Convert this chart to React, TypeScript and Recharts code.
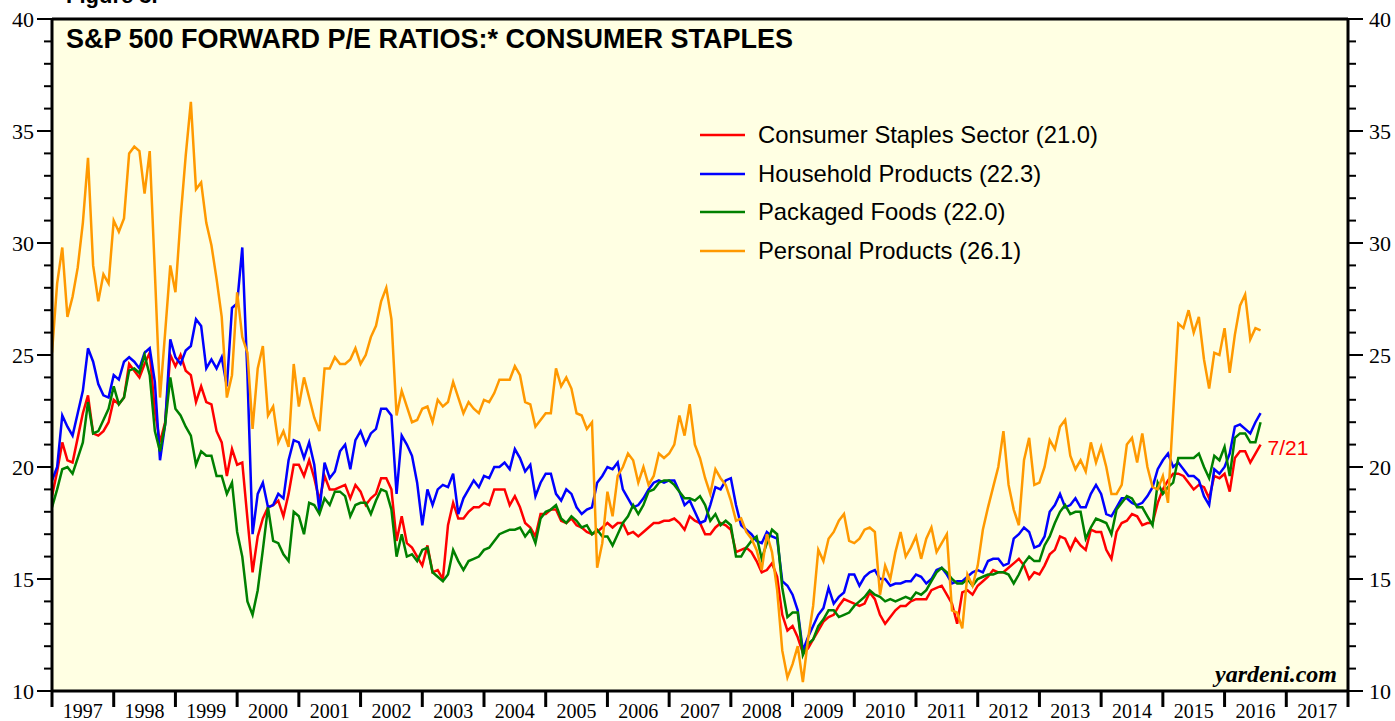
import React from "react";
import {
  CartesianGrid,
  LabelList,
  Legend,
  Line,
  LineChart,
  ReferenceLine,
  XAxis,
  YAxis,
} from "recharts";

// monthly readings, Jan 1997 .. Aug 2016
const START_YEAR = 1997;

const staples = [
  18.7, 19.8, 21.1, 20.3, 20.2, 21.3, 22.4, 23.2, 21.5, 21.4, 21.6, 22.0,
  23.0, 22.8, 23.1, 24.6, 24.3, 24.0, 24.6, 25.1, 22.5, 21.1, 22.0, 25.0,
  24.5, 25.0, 24.3, 24.1, 22.9, 23.6, 22.9, 22.8, 21.6, 21.1, 19.6, 20.8,
  20.1, 20.2, 17.7, 15.3, 16.9, 17.7, 18.2, 18.3, 18.5, 17.8, 18.8, 20.1,
  20.1, 19.6, 20.3, 19.5, 18.5,
  19.6, 19.0, 19.0, 19.1, 19.2, 18.6, 19.2, 18.9, 18.3, 18.6, 18.8, 19.5,
  19.5, 19.0, 16.7, 17.8, 16.6, 16.4, 16.0, 15.6, 16.5, 15.3, 15.4, 15.0,
  17.4, 18.4, 17.7, 17.7, 18.0, 18.2, 18.2, 18.4, 18.3, 19.0, 19.0, 19.0,
  18.3, 18.7, 18.2, 17.5, 17.3, 16.9, 17.9, 17.9, 18.1, 18.1, 17.6, 17.5,
  17.7, 17.4, 17.3, 17.1, 17.0, 17.1,
  17.3, 17.5,
  17.3, 17.5, 17.5, 17.0, 17.1, 16.9, 17.1, 17.3, 17.5, 17.5, 17.6, 17.6,
  17.7, 17.5, 17.2, 17.8, 17.6, 17.5, 17.0, 17.0, 17.3, 17.5, 17.4, 17.2,
  16.2, 16.3, 16.4, 16.2, 15.8, 15.3, 15.4, 15.7, 15.1, 13.4, 12.7, 12.9,
  12.4, 11.7, 11.9, 12.3, 12.7, 13.1, 13.3, 13.4, 13.8, 14.1, 14.0,
  13.9, 13.8, 13.9, 14.4, 14.1, 13.4, 13.0, 13.3, 13.6, 13.8, 13.8, 14.0,
  14.1, 14.1, 14.1, 14.5, 14.6, 14.7, 14.3, 13.9, 13.0, 14.4, 14.5, 14.3,
  14.7, 14.9, 15.1, 15.4, 15.3, 15.3, 15.5, 15.7, 15.9, 15.6, 15.0, 15.3,
  15.2, 15.6, 16.1,
  16.3, 16.9, 16.8, 16.3, 16.8, 16.5, 16.3, 17.2, 17.1, 17.1,
  16.3, 15.9, 17.1, 17.5, 17.6, 17.9, 17.8, 17.4, 17.5, 17.5, 18.4, 19.0,
  19.4, 19.7, 19.7, 19.6, 19.3, 19.0, 19.2, 19.1, 18.6, 19.6, 19.5, 19.7,
  18.9, 20.4, 20.7, 20.7, 20.2, 20.6, 21.0,
];

const household = [
  19.4, 20.0, 22.3, 21.8, 21.4, 22.4, 23.4, 25.3, 24.7, 23.7, 23.2, 23.1,
  24.1, 23.9, 24.7, 24.9, 24.7, 24.4, 25.1, 25.3, 23.8, 20.3, 21.9, 25.7,
  24.9, 24.6, 25.2, 25.4, 26.6, 26.3, 24.4, 24.8, 24.4, 24.9, 23.6, 27.1,
  27.3, 29.8, 24.1, 17.0, 18.8, 19.3, 18.2, 18.3, 18.8, 18.6, 20.3, 21.2,
  21.1, 20.4, 21.1, 20.1, 18.0,
  20.2, 19.5, 19.8, 20.7, 21.0, 19.9, 21.2, 21.6, 21.0, 21.5, 21.7, 22.6,
  22.6, 22.3, 18.8, 21.4, 21.0, 20.5, 19.3, 17.4, 19.0, 18.3, 19.0, 19.2,
  19.1, 19.7, 17.9, 18.6, 19.0, 19.4, 19.1, 19.6, 19.5, 20.0, 20.0, 20.2,
  19.9, 20.8, 20.4, 19.8, 20.1, 18.7, 19.3, 19.7, 19.7, 18.8, 18.5, 19.0,
  18.8, 18.2, 17.9, 18.1, 18.2, 19.3,
  19.6, 20.0,
  19.9, 20.2, 19.0, 18.6, 18.2, 18.3, 18.6, 19.0, 19.3, 19.4, 19.3, 19.4,
  19.4, 18.9, 18.3, 18.5, 18.0, 17.5, 17.6, 18.3, 19.1, 19.0, 19.4, 19.5,
  18.3, 17.4, 17.2, 17.0, 16.7, 16.6, 17.1, 16.9, 16.8, 14.9, 14.7, 14.3,
  13.6, 11.8, 12.4, 12.9, 13.4, 13.7, 14.6, 13.9, 14.2, 14.4, 15.2,
  15.2, 14.7, 15.1, 15.3, 15.4, 15.0, 15.0, 14.7, 14.8, 14.8, 14.9, 14.9,
  15.2, 15.1, 14.8, 15.0, 15.4, 15.5, 15.2, 14.8, 14.9, 14.9, 15.1, 15.3,
  15.4, 15.3, 15.8, 15.9, 15.9, 15.6, 15.7, 16.8, 17.0, 17.3, 17.1, 16.4,
  16.5, 16.9, 18.0,
  18.3, 18.8, 18.2, 18.3, 18.6, 18.2, 18.2, 18.8, 19.2, 18.8,
  17.9, 17.8, 18.2, 18.6, 18.6, 18.4, 18.3, 18.4, 18.7, 19.1, 19.9, 20.3,
  20.6, 20.0, 20.2, 19.9, 19.6, 19.6, 19.4, 18.7, 18.3, 19.9, 19.7, 20.0,
  20.6, 21.8, 21.9, 21.7, 21.5, 22.0, 22.4,
];

const foods = [
  18.2, 19.0, 19.9, 20.0, 19.7, 20.4, 21.1, 22.9, 21.5, 21.6, 22.1, 22.6,
  23.6, 22.8, 23.1, 24.3, 24.4, 24.2, 25.0, 24.1, 21.6, 20.7, 21.9, 24.0,
  22.6, 22.3, 21.8, 21.4, 20.1, 20.7, 20.5, 20.5, 19.6, 19.6, 18.8, 19.3,
  17.1, 16.0, 14.0, 13.4, 14.5, 16.3, 18.2, 16.7, 16.6, 16.1, 15.8, 18.0,
  17.8, 17.0, 18.4, 18.3, 17.9,
  18.6, 18.3, 18.9, 18.9, 18.7, 17.8, 18.3, 18.4, 18.4, 17.9, 18.5, 19.0,
  18.9, 18.1, 16.0, 17.0, 16.0, 16.1, 15.8, 16.3, 16.4, 15.3, 15.1, 14.9,
  15.2, 16.3, 15.8, 15.4, 15.8, 15.9, 16.0, 16.3, 16.4, 16.7, 17.0, 17.1,
  17.2, 17.2, 17.3, 16.9, 17.2, 16.6, 17.7, 18.0, 18.1, 18.3, 17.7, 17.5,
  17.8, 17.6, 17.3, 17.4, 17.0, 17.2,
  16.9, 16.9,
  16.5, 17.0, 17.5, 17.8, 18.3, 17.9, 18.3, 18.9, 19.0, 19.3, 19.4, 19.4,
  19.2, 18.9, 18.6, 18.6, 18.5, 18.7, 18.3, 17.6, 17.9, 17.4, 17.6, 17.4,
  16.0, 16.0, 16.4, 16.7, 16.9, 15.9, 16.6, 17.2, 17.0, 14.6, 13.3, 13.5,
  13.5, 11.6, 12.1, 12.3, 12.9, 13.2, 13.6, 13.6, 13.3, 13.4, 13.5,
  13.8, 14.0, 14.2, 14.5, 14.3, 14.2, 14.0, 14.1, 14.0, 14.1, 14.2, 14.1,
  14.4, 14.3, 14.5, 14.9, 15.3, 15.5, 15.3, 15.0, 14.8, 14.8, 15.0, 14.7,
  15.0, 15.1, 15.2, 15.2, 15.3, 15.3, 15.2, 14.8, 15.2, 15.7, 16.0, 15.8,
  15.8, 16.5, 16.9,
  17.5, 18.0, 18.3, 17.9, 18.0, 18.0, 16.8, 17.3, 17.7, 17.6,
  17.5, 17.0, 18.1, 18.4, 18.7, 18.6, 18.2, 18.2, 17.8, 17.4, 19.3, 18.8,
  19.1, 19.3, 20.4, 20.4, 20.4, 20.4, 20.6, 20.0, 19.5, 20.5, 20.3, 20.9,
  19.6, 21.3, 21.5, 21.5, 21.1, 21.1, 22.0,
];

const personal = [
  25.1, 28.2, 29.8, 26.7, 27.6, 28.9, 30.9, 33.8, 29.0, 27.4, 28.6, 28.2,
  31.0, 30.5, 31.1, 34.0, 34.3, 34.1, 32.2, 34.1, 28.7, 23.1, 26.0, 29.0,
  27.8, 31.1, 33.9, 36.3, 32.4, 32.7, 30.9, 29.9, 28.4, 26.7, 23.1, 24.1,
  27.8, 25.8, 25.1, 21.7, 24.4, 25.4, 22.3, 22.7, 21.1, 21.6, 20.9, 24.6,
  22.7, 24.0, 23.1, 22.2, 21.6,
  24.4, 24.4, 24.9, 24.6, 24.6, 24.8, 25.3, 24.6, 25.0, 25.8, 26.3, 27.4,
  28.0, 26.6, 22.3, 23.4, 22.7, 22.0, 22.1, 22.6, 22.7, 22.0, 23.0, 22.7,
  22.9, 23.8, 23.1, 22.4, 22.9, 22.6, 22.4, 23.0, 22.9, 23.3, 23.9, 23.9,
  23.9, 24.5, 24.1, 22.9, 22.8, 21.8, 22.1, 22.4, 22.4, 24.4, 23.6, 24.0,
  23.5, 22.4, 22.3, 21.7, 22.0, 15.5,
  16.6, 18.9,
  17.8, 19.6, 20.0, 20.6, 20.3, 19.3, 20.0, 19.2, 19.6, 20.6, 20.4, 20.6,
  21.0, 22.3, 21.4, 22.8, 21.0, 20.4, 19.5, 18.8, 19.9, 19.5, 19.2, 18.5,
  17.6, 17.7, 17.1, 16.8, 16.3, 15.4, 17.0, 16.2, 14.5, 11.8, 10.6, 11.2,
  12.0, 10.4, 12.3, 13.8, 16.3, 15.8, 16.8, 17.1, 17.6, 17.9, 16.7,
  16.6, 16.8, 17.2, 17.3, 17.1, 14.3, 15.6, 15.0, 16.2, 17.1, 16.0, 16.4,
  16.9, 15.9, 16.8, 17.3, 16.2, 16.6, 17.0, 13.6, 13.5, 12.8, 15.2, 14.7,
  15.6, 17.2, 18.2, 19.1, 20.0, 21.6, 19.2, 18.1, 17.4, 20.3, 21.3, 19.2,
  19.3, 20.0, 21.2, 20.8, 21.8, 22.1, 20.5, 19.9, 20.3, 19.8, 21.1, 20.2,
  20.9,
  20.0, 18.8, 18.8, 19.2, 21.0, 21.3, 20.2, 21.5, 20.0, 19.1, 19.0, 19.6,
  18.4, 22.4, 26.4, 26.2, 27.0, 26.0, 26.7, 24.8, 23.5, 25.1, 25.0, 26.2,
  24.2, 25.9, 27.2, 27.7, 25.7, 26.2, 26.1,
];

const yearTicks = [
  1997, 1998, 1999, 2000, 2001, 2002, 2003, 2004, 2005, 2006, 2007, 2008,
  2009, 2010, 2011, 2012, 2013, 2014, 2015, 2016, 2017, 2018,
];

const peTicks = [
  10, 11, 12, 13, 14, 15, 16, 17, 18, 19, 20, 21, 22, 23, 24, 25, 26, 27,
  28, 29, 30, 31, 32, 33, 34, 35, 36, 37, 38, 39, 40,
];

const seriesNames = [
  "Consumer Staples Sector (21.0)",
  "Household Products (22.3)",
  "Packaged Foods (22.0)",
  "Personal Products (26.1)",
];

const lastDate = "7/21";

const W = 1395;
const H = 721;
const LEFT_W = 52;
const RIGHT_W = 47;
const HALF_YEAR = (W - LEFT_W - RIGHT_W) / (yearTicks.length - 1) / 2;

const SERIF = '"Liberation Serif", "Times New Roman", serif';
const SANS = '"Liberation Sans", Arial, sans-serif';

const data = staples.map((v, i) => ({
  t: START_YEAR + i / 12,
  staples: v,
  household: household[i],
  foods: foods[i],
  personal: personal[i],
}));

function LeftTick(props: any) {
  const { x, y, payload } = props;
  const major = payload.value % 5 === 0;
  return (
    <g>
      <line x1={x - (major ? 15 : 8)} x2={x} y1={y} y2={y} stroke="#000" strokeWidth={2} />
      {major && (
        <text x={x - 18} y={y + 8} textAnchor="end" fontFamily={SERIF} fontSize={22} fill="#000">
          {payload.value}
        </text>
      )}
    </g>
  );
}

function RightTick(props: any) {
  const { x, y, payload } = props;
  const major = payload.value % 5 === 0;
  return (
    <g>
      <line x1={x} x2={x + (major ? 15 : 8)} y1={y} y2={y} stroke="#000" strokeWidth={2} />
      {major && (
        <text x={x + 21} y={y + 8} textAnchor="start" fontFamily={SERIF} fontSize={22} fill="#000">
          {payload.value}
        </text>
      )}
    </g>
  );
}

function YearTick(props: any) {
  const { x, y, payload, index } = props;
  const last = index === yearTicks.length - 1;
  return (
    <g>
      <line x1={x} x2={x} y1={y} y2={y + 16} stroke="#000" strokeWidth={3} />
      {!last && (
        <text x={x + HALF_YEAR} y={y + 27} textAnchor="middle" fontFamily={SERIF} fontSize={20} fill="#000">
          {payload.value}
        </text>
      )}
    </g>
  );
}

function LegendBox(props: any) {
  const items = props.payload ?? [];
  return (
    <div style={{ fontFamily: SANS, fontSize: 23.8, color: "#000", whiteSpace: "nowrap" }}>
      {items.map((p: any) => (
        <div key={p.value} style={{ display: "flex", alignItems: "center", height: 38.5 }}>
          <svg width={58} height={10} style={{ display: "block" }}>
            <line x1={0} x2={45} y1={5} y2={5} stroke={p.color} strokeWidth={2.5} />
          </svg>
          <span style={{ lineHeight: 1 }}>{p.value}</span>
        </div>
      ))}
    </div>
  );
}

function EndLabel(props: any) {
  const { x, y, index } = props;
  if (index !== staples.length - 1) return null;
  return (
    <text x={x + 7} y={y + 10} fill="#ff0000" fontFamily={SANS} fontSize={21}>
      {lastDate}
    </text>
  );
}

export default function App() {
  return (
    <div style={{ position: "absolute", left: 0, top: 0, background: "#fff" }}>
      <LineChart width={W} height={H} data={data} margin={{ top: 19, right: 0, bottom: 0, left: 0 }}>
        <CartesianGrid horizontal={false} vertical={false} fill="#ffffe3" />
        <XAxis
          dataKey="t"
          type="number"
          domain={[1997, 2018]}
          ticks={yearTicks}
          interval={0}
          height={30}
          tickSize={0}
          tickMargin={0}
          tickLine={false}
          axisLine={{ stroke: "#000", strokeWidth: 3 }}
          tick={<YearTick />}
          allowDataOverflow
        />
        <YAxis
          yAxisId="left"
          orientation="left"
          domain={[10, 40]}
          ticks={peTicks}
          interval={0}
          width={LEFT_W}
          tickSize={0}
          tickMargin={0}
          tickLine={false}
          axisLine={{ stroke: "#000", strokeWidth: 3 }}
          tick={<LeftTick />}
          allowDataOverflow
        />
        <YAxis
          yAxisId="right"
          orientation="right"
          domain={[10, 40]}
          ticks={peTicks}
          interval={0}
          width={RIGHT_W}
          tickSize={0}
          tickMargin={0}
          tickLine={false}
          axisLine={{ stroke: "#000", strokeWidth: 3 }}
          tick={<RightTick />}
          allowDataOverflow
        />
        <ReferenceLine yAxisId="left" y={40} stroke="#000" strokeWidth={3} />
        <Legend
          layout="vertical"
          align="center"
          verticalAlign="middle"
          content={<LegendBox />}
          wrapperStyle={{ left: 700, top: 116, width: 480, height: 160 }}
        />
        <Line yAxisId="left" type="linear" dataKey="staples" name={seriesNames[0]} stroke="#ff0000" strokeWidth={2.5} dot={false} isAnimationActive={false}>
          <LabelList dataKey="staples" content={<EndLabel />} />
        </Line>
        <Line yAxisId="left" type="linear" dataKey="household" name={seriesNames[1]} stroke="#0000ff" strokeWidth={2.5} dot={false} isAnimationActive={false} />
        <Line yAxisId="left" type="linear" dataKey="foods" name={seriesNames[2]} stroke="#008000" strokeWidth={2.5} dot={false} isAnimationActive={false} />
        <Line yAxisId="left" type="linear" dataKey="personal" name={seriesNames[3]} stroke="#ff9900" strokeWidth={2.5} dot={false} isAnimationActive={false} />
        <text x={66} y={3} fontFamily={SANS} fontWeight="bold" fontSize={22} fill="#000">
          Figure 3.
        </text>
        <text x={66} y={48} fontFamily={SANS} fontWeight="bold" fontSize={27} fill="#000">
          {"S&P 500 FORWARD P/E RATIOS:* CONSUMER STAPLES"}
        </text>
        <text x={1337} y={682} textAnchor="end" fontFamily={SERIF} fontWeight="bold" fontStyle="italic" fontSize={24} fill="#000">
          yardeni.com
        </text>
      </LineChart>
    </div>
  );
}
